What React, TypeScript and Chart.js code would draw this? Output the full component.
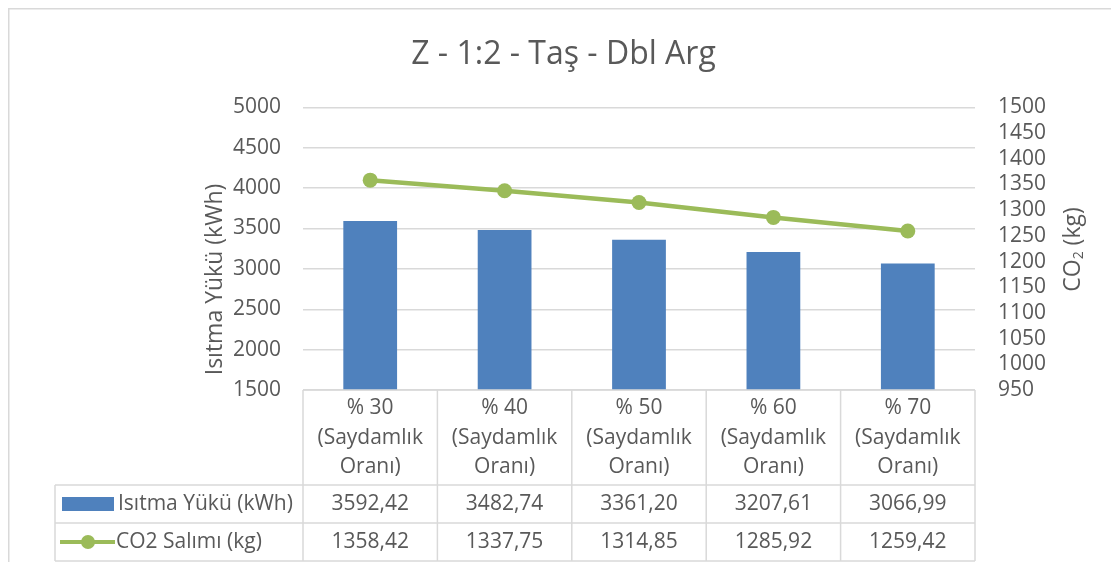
import React, { useEffect, useRef } from "react";
import { Chart, registerables } from "chart.js";

Chart.register(...registerables);

// ---- data ----
const categories = ["% 30", "% 40", "% 50", "% 60", "% 70"];
const categorySuffix = ["(Saydamlık", "Oranı)"];
const heatingLoad = [3592.42, 3482.74, 3361.2, 3207.61, 3066.99];
const co2Emission = [1358.42, 1337.75, 1314.85, 1285.92, 1259.42];
const seriesNames = ["Isıtma Yükü (kWh)", "CO2 Salımı (kg)"];
const chartTitle = "Z - 1:2 - Taş - Dbl Arg";
const leftAxisTitle = "Isıtma Yükü (kWh)";
const rightAxisTitleMain = "CO";
const rightAxisTitleSub = "2";
const rightAxisTitleRest = " (kg)";
const leftAxisRange = [1500, 5000, 500];
const rightAxisRange = [950, 1500, 50];

// ---- styles ----
const FONT = "'Open Sans', sans-serif";
const TEXT = "#595959";
const GRID = "#d9d9d9";
const BAR = "#4f81bd";
const LINE = "#9bbb59";
const W = 1111;
const H = 554;
const VAL_SIZE = 21;
const AXIS_TITLE_SIZE = 23;

const fmt = (v: number) => v.toFixed(2).replace(".", ",");

const tablePlugin = {
  id: "excelTable",
  afterDraw(chart: any) {
    const ctx = chart.ctx as CanvasRenderingContext2D;
    const area = chart.chartArea;
    const xs = chart.scales.x;
    const n = categories.length;
    const colW = (area.right - area.left) / n;
    const top = area.bottom;
    const r1 = top + 95;
    const r2 = r1 + 38;
    const bottom = r2 + 38;
    const legendLeft = 47;

    ctx.save();
    // outer frame
    ctx.strokeStyle = GRID;
    ctx.lineWidth = 1.5;
    ctx.beginPath();
    ctx.moveTo(0.75, H);
    ctx.lineTo(0.75, 0.75);
    ctx.lineTo(W - 0.75, 0.75);
    ctx.lineTo(W - 0.75, H);
    ctx.stroke();

    // table lines
    ctx.beginPath();
    ctx.moveTo(area.left, top);
    ctx.lineTo(area.right, top);
    ctx.moveTo(legendLeft, r1);
    ctx.lineTo(area.right, r1);
    ctx.moveTo(legendLeft, r2);
    ctx.lineTo(area.right, r2);
    ctx.moveTo(legendLeft, bottom);
    ctx.lineTo(area.right, bottom);
    ctx.moveTo(legendLeft, r1);
    ctx.lineTo(legendLeft, bottom);
    for (let i = 0; i <= n; i++) {
      const xx = i < n ? xs.getPixelForValue(i) - colW / 2 : xs.getPixelForValue(n - 1) + colW / 2;
      ctx.moveTo(xx, top);
      ctx.lineTo(xx, bottom);
    }
    ctx.stroke();

    // values
    ctx.fillStyle = TEXT;
    ctx.font = `${VAL_SIZE}px ${FONT}`;
    ctx.textAlign = "center";
    ctx.textBaseline = "middle";
    const y1 = (r1 + r2) / 2;
    const y2 = (r2 + bottom) / 2;
    for (let i = 0; i < n; i++) {
      const cx = xs.getPixelForValue(i);
      ctx.fillText(fmt(heatingLoad[i]), cx, y1);
      ctx.fillText(fmt(co2Emission[i]), cx, y2);
    }

    // legend keys
    ctx.fillStyle = BAR;
    ctx.fillRect(legendLeft + 7, y1 - 7, 52, 14);
    ctx.strokeStyle = LINE;
    ctx.lineWidth = 4;
    ctx.beginPath();
    ctx.moveTo(legendLeft + 5, y2);
    ctx.lineTo(legendLeft + 60, y2);
    ctx.stroke();
    ctx.fillStyle = LINE;
    ctx.beginPath();
    ctx.arc(legendLeft + 33, y2, 7, 0, Math.PI * 2);
    ctx.fill();

    ctx.fillStyle = TEXT;
    ctx.textAlign = "left";
    ctx.fillText(seriesNames[0], legendLeft + 63, y1);
    ctx.fillText(seriesNames[1], legendLeft + 61, y2);

    // left axis title
    ctx.save();
    ctx.font = `${AXIS_TITLE_SIZE}px ${FONT}`;
    ctx.translate(207, 271.5);
    ctx.rotate(-Math.PI / 2);
    ctx.textAlign = "center";
    ctx.fillText(leftAxisTitle, 0, 0);
    ctx.restore();

    // right axis title with subscript
    ctx.save();
    ctx.translate(1065, 241.5);
    ctx.rotate(-Math.PI / 2);
    ctx.textAlign = "left";
    ctx.font = `${AXIS_TITLE_SIZE}px ${FONT}`;
    const wMain = ctx.measureText(rightAxisTitleMain).width;
    const wRest = ctx.measureText(rightAxisTitleRest).width;
    ctx.font = `14px ${FONT}`;
    const wSub = ctx.measureText(rightAxisTitleSub).width;
    const total = wMain + wSub + wRest;
    let px = -total / 2;
    ctx.font = `${AXIS_TITLE_SIZE}px ${FONT}`;
    ctx.fillText(rightAxisTitleMain, px, 0);
    px += wMain;
    ctx.font = `14px ${FONT}`;
    ctx.fillText(rightAxisTitleSub, px, 6);
    px += wSub;
    ctx.font = `${AXIS_TITLE_SIZE}px ${FONT}`;
    ctx.fillText(rightAxisTitleRest, px, 0);
    ctx.restore();

    ctx.restore();
  },
};

export default function App() {
  const ref = useRef<HTMLCanvasElement | null>(null);

  useEffect(() => {
    document.documentElement.style.overflow = "hidden";
    const canvas = ref.current;
    if (!canvas) return;
    const chart = new Chart(canvas, {
      type: "bar",
      data: {
        labels: categories.map((c) => [c, ...categorySuffix]),
        datasets: [
          {
            type: "line",
            label: seriesNames[1],
            data: co2Emission,
            yAxisID: "y1",
            borderColor: LINE,
            backgroundColor: LINE,
            borderWidth: 4.5,
            pointRadius: 7.5,
            pointBackgroundColor: LINE,
            pointBorderColor: LINE,
            pointBorderWidth: 0,
            tension: 0,
            order: 0,
          } as any,
          {
            type: "bar",
            label: seriesNames[0],
            data: heatingLoad,
            yAxisID: "y",
            backgroundColor: BAR,
            borderWidth: 0,
            barPercentage: 0.4,
            categoryPercentage: 1,
            order: 1,
          },
        ],
      },
      options: {
        responsive: false,
        animation: false,
        devicePixelRatio: 1,
        layout: { padding: { top: 0, left: 0, right: 0, bottom: 0 } },
        plugins: {
          legend: { display: false },
          tooltip: { enabled: false },
          title: {
            display: true,
            text: chartTitle,
            color: TEXT,
            font: { family: FONT, size: 32, weight: "normal", lineHeight: 1.2 },
            padding: { top: 27.8, bottom: 33.2 },
          },
        },
        scales: {
          x: {
            grid: { display: false, drawTicks: false },
            border: { display: false },
            ticks: {
              color: TEXT,
              font: { family: FONT, size: 21, lineHeight: 29.5 / 21 },
              padding: 3.5,
              maxRotation: 0,
              autoSkip: false,
            },
            afterFit: (s: any) => {
              s.height = 172;
            },
          },
          y: {
            position: "left",
            min: leftAxisRange[0],
            max: leftAxisRange[1],
            grid: { color: GRID, lineWidth: 1.5, drawTicks: false },
            border: { display: false },
            ticks: {
              stepSize: leftAxisRange[2],
              autoSkip: false,
              color: TEXT,
              font: { family: FONT, size: VAL_SIZE },
              padding: 22,
              callback: (v: any) => String(v),
            },
            afterFit: (s: any) => {
              s.width = 295;
            },
          },
          y1: {
            position: "right",
            min: rightAxisRange[0],
            max: rightAxisRange[1],
            grid: { display: false, drawTicks: false },
            border: { display: false },
            ticks: {
              stepSize: rightAxisRange[2],
              autoSkip: false,
              color: TEXT,
              font: { family: FONT, size: VAL_SIZE },
              padding: 23,
              callback: (v: any) => String(v),
            },
            afterFit: (s: any) => {
              s.width = W - 967;
            },
          },
        },
      },
      plugins: [tablePlugin],
    });
    return () => chart.destroy();
  }, []);

  return (
    <div style={{ width: W, height: H, background: "#fff" }}>
      <canvas ref={ref} width={W} height={H} style={{ display: "block", width: W, height: H }} />
    </div>
  );
}
